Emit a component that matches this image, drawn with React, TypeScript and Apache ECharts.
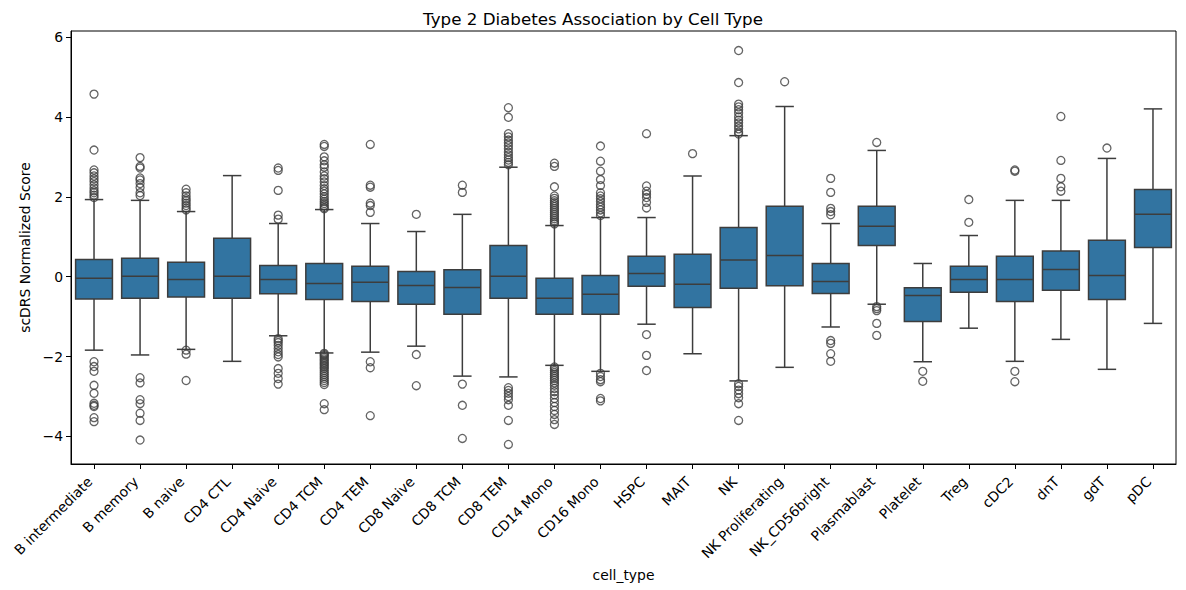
import React, { useEffect, useRef } from "react";
import * as echarts from "echarts";

// Cell types along the x axis
const categories = [
  "B intermediate", "B memory", "B naive", "CD4 CTL", "CD4 Naive", "CD4 TCM",
  "CD4 TEM", "CD8 Naive", "CD8 TCM", "CD8 TEM", "CD14 Mono", "CD16 Mono",
  "HSPC", "MAIT", "NK", "NK Proliferating", "NK_CD56bright", "Plasmablast",
  "Platelet", "Treg", "cDC2", "dnT", "gdT", "pDC",
];

// Box statistics per cell type
const whiskerLow = [-1.84, -1.96, -1.82, -2.12, -1.48, -1.91, -1.89, -1.74, -2.49, -2.51, -2.22, -2.37,
  -1.19, -1.93, -2.61, -2.27, -1.26, -0.69, -2.13, -1.29, -2.12, -1.57, -2.32, -1.17];
const q1 = [-0.56, -0.54, -0.51, -0.54, -0.43, -0.57, -0.62, -0.69, -0.94, -0.54, -0.94, -0.94,
  -0.24, -0.77, -0.29, -0.23, -0.42, 0.78, -1.12, -0.39, -0.62, -0.34, -0.57, 0.73];
const median = [-0.04, 0.01, -0.07, 0.01, -0.07, -0.17, -0.14, -0.22, -0.27, 0.01, -0.54, -0.44,
  0.08, -0.19, 0.42, 0.53, -0.12, 1.26, -0.47, -0.07, -0.07, 0.18, 0.03, 1.56];
const q3 = [0.43, 0.46, 0.36, 0.96, 0.28, 0.33, 0.26, 0.13, 0.17, 0.78, -0.04, 0.03,
  0.51, 0.56, 1.23, 1.76, 0.33, 1.76, -0.28, 0.26, 0.51, 0.64, 0.91, 2.18];
const whiskerHigh = [1.93, 1.91, 1.63, 2.53, 1.33, 1.68, 1.33, 1.13, 1.56, 2.74, 1.28, 1.48,
  1.48, 2.52, 3.53, 4.26, 1.33, 3.16, 0.33, 1.03, 1.91, 1.91, 2.96, 4.2];

// Points beyond the whiskers
const outliers: number[][] = [
  [4.57, 3.17, 2.67, 2.6, 2.52, 2.45, 2.38, 2.3, 2.22, 2.15, 2.1, 2.04, 1.98,
    -2.13, -2.25, -2.37, -2.72, -2.92, -3.17, -3.22, -3.25, -3.53, -3.63],
  [2.98, 2.76, 2.72, 2.47, 2.42, 2.33, 2.23, 2.1, 2.03,
    -2.53, -2.66, -3.08, -3.18, -3.42, -3.6, -4.09],
  [2.19, 2.1, 2.02, 1.95, 1.9, 1.84, 1.78, 1.72, 1.67, -1.84, -1.94, -2.6],
  [],
  [2.72, 2.66, 2.16, 1.54, 1.44,
    -1.55, -1.6, -1.65, -1.72, -1.8, -1.88, -1.95, -2.01, -2.3, -2.42, -2.55, -2.69],
  [3.31, 3.26, 3.0, 2.9, 2.8, 2.74, 2.62, 2.52, 2.45, 2.37, 2.28, 2.2, 2.14, 2.07, 2.0, 1.94,
    1.88, 1.83, 1.78, 1.73, 1.7,
    -1.92, -1.95, -1.98, -2.02, -2.06, -2.1, -2.14, -2.18, -2.22, -2.26, -2.3, -2.35, -2.4,
    -2.45, -2.5, -2.55, -2.6, -2.65, -2.7, -3.18, -3.33],
  [3.31, 2.29, 2.24, 1.84, 1.78, 1.61, -2.13, -2.28, -3.48],
  [1.56, -1.95, -2.73],
  [2.29, 2.11, -2.69, -3.22, -4.05],
  [4.23, 3.99, 3.58, 3.5, 3.42, 3.35, 3.28, 3.2, 3.12, 3.05, 2.98, 2.92, 2.86, 2.8,
    -2.78, -2.85, -2.92, -3.0, -3.08, -3.22, -3.6, -4.2],
  [2.84, 2.76, 2.25, 2.02, 1.96, 1.9, 1.85, 1.8, 1.75, 1.7, 1.65, 1.6, 1.55, 1.5, 1.45, 1.4,
    1.36, 1.32,
    -2.26, -2.3, -2.35, -2.4, -2.45, -2.5, -2.55, -2.6, -2.66, -2.72, -2.8, -2.88, -2.96,
    -3.05, -3.15, -3.25, -3.35, -3.45, -3.58, -3.7],
  [3.27, 2.89, 2.64, 2.43, 2.28, 2.1, 2.02, 1.95, 1.88, 1.8, 1.74, 1.67, 1.6, 1.53,
    -2.42, -2.5, -2.58, -2.63, -3.05, -3.11],
  [3.58, 2.27, 2.14, 2.06, 1.98, 1.86, 1.72, -1.45, -1.97, -2.35],
  [3.08],
  [5.66, 4.86, 4.32, 4.25, 4.18, 4.1, 4.0, 3.92, 3.85, 3.77, 3.7, 3.62, 3.57,
    -2.68, -2.75, -2.84, -2.93, -3.03, -3.18, -3.6],
  [4.88],
  [2.46, 2.11, 1.71, 1.63, 1.55, -1.6, -1.67, -1.93, -2.12],
  [3.36, -0.75, -0.8, -0.85, -1.17, -1.47],
  [-2.37, -2.62],
  [1.93, 1.36],
  [2.67, 2.64, -2.37, -2.63],
  [4.01, 2.91, 2.46, 2.25, 2.14],
  [3.22],
  [],
];

const yTicks = [-4, -2, 0, 2, 4, 6];
const yMin = -4.69;
const yMax = 6.15;

const BOX_FILL = "#3274a1";
const EDGE = "#3d3d3d";
const FONT = "DejaVu Sans";

const renderBox = (_params: any, api: any) => {
  const i = api.value(0);
  const lo = api.coord([i, api.value(1)]);
  const b1 = api.coord([i, api.value(2)]);
  const md = api.coord([i, api.value(3)]);
  const b3 = api.coord([i, api.value(4)]);
  const hi = api.coord([i, api.value(5)]);
  const band = api.size([1, 0])[0];
  const cx = md[0];
  const hw = band * 0.4;
  const cw = band * 0.2;
  const line = { stroke: EDGE, lineWidth: 1.5 };
  return {
    type: "group",
    children: [
      { type: "line", shape: { x1: cx, y1: b1[1], x2: cx, y2: lo[1] }, style: line },
      { type: "line", shape: { x1: cx, y1: b3[1], x2: cx, y2: hi[1] }, style: line },
      { type: "line", shape: { x1: cx - cw, y1: lo[1], x2: cx + cw, y2: lo[1] }, style: line },
      { type: "line", shape: { x1: cx - cw, y1: hi[1], x2: cx + cw, y2: hi[1] }, style: line },
      {
        type: "rect",
        shape: { x: cx - hw, y: b3[1], width: hw * 2, height: b1[1] - b3[1] },
        style: { fill: BOX_FILL, stroke: EDGE, lineWidth: 1.5 },
      },
      { type: "line", shape: { x1: cx - hw, y1: md[1], x2: cx + hw, y2: md[1] }, style: line },
    ],
  };
};

export default function App() {
  const ref = useRef<HTMLDivElement>(null);

  useEffect(() => {
    if (!ref.current) return;
    const chart = echarts.init(ref.current, null, { renderer: "svg" });

    const boxData = categories.map((_, i) => [i, whiskerLow[i], q1[i], median[i], q3[i], whiskerHigh[i]]);
    const pointData = outliers.flatMap((vals, i) => vals.map((v) => [i, v]));

    chart.setOption({
      animation: false,
      backgroundColor: "#ffffff",
      textStyle: { fontFamily: FONT },
      title: {
        text: "Type 2 Diabetes Association by Cell Type",
        left: "center",
        top: 5,
        textStyle: { fontFamily: FONT, fontSize: 16.7, fontWeight: "normal", color: "#000" },
      },
      grid: {
        left: 71,
        right: 10,
        top: 31,
        bottom: 126,
        show: true,
        borderColor: "#000",
        borderWidth: 1,
      },
      xAxis: {
        type: "category",
        data: categories,
        boundaryGap: true,
        name: "cell_type",
        nameLocation: "middle",
        nameGap: 99,
        nameTextStyle: { fontFamily: FONT, fontSize: 13.9, color: "#000" },
        axisLine: { show: true, onZero: false, lineStyle: { color: "#000", width: 1 } },
        axisTick: { show: true, alignWithLabel: true, length: 5, lineStyle: { color: "#000" } },
        axisLabel: {
          rotate: 45,
          interval: 0,
          margin: 11,
          padding: [0, 6, 0, 0],
          fontFamily: FONT,
          fontSize: 13.9,
          color: "#000",
        },
        splitLine: { show: false },
      },
      yAxis: {
        type: "value",
        min: yMin,
        max: yMax,
        name: "scDRS Normalized Score",
        nameLocation: "middle",
        nameGap: 38,
        nameTextStyle: { fontFamily: FONT, fontSize: 13.9, color: "#000" },
        axisLine: { show: true, lineStyle: { color: "#000", width: 1 } },
        axisTick: { show: true, length: 5, lineStyle: { color: "#000" }, customValues: yTicks },
        axisLabel: {
          customValues: yTicks,
          margin: 8,
          fontFamily: FONT,
          fontSize: 13.9,
          color: "#000",
          formatter: (v: number) => (v < 0 ? "\u2212" + Math.abs(v) : String(v)),
        },
        splitLine: { show: false },
      },
      series: [
        {
          type: "custom",
          name: "boxes",
          renderItem: renderBox,
          encode: { x: 0, y: [1, 2, 3, 4, 5] },
          data: boxData,
          z: 2,
        },
        {
          type: "scatter",
          name: "outliers",
          data: pointData,
          symbol: "circle",
          symbolSize: 8,
          itemStyle: { color: "rgba(0,0,0,0)", borderColor: EDGE, borderWidth: 1.3 },
          z: 3,
        },
      ],
    });

    return () => chart.dispose();
  }, []);

  return (
    <div
      ref={ref}
      style={{ position: "absolute", left: 0, top: 0, width: 1186, height: 590, background: "#fff" }}
    />
  );
}
